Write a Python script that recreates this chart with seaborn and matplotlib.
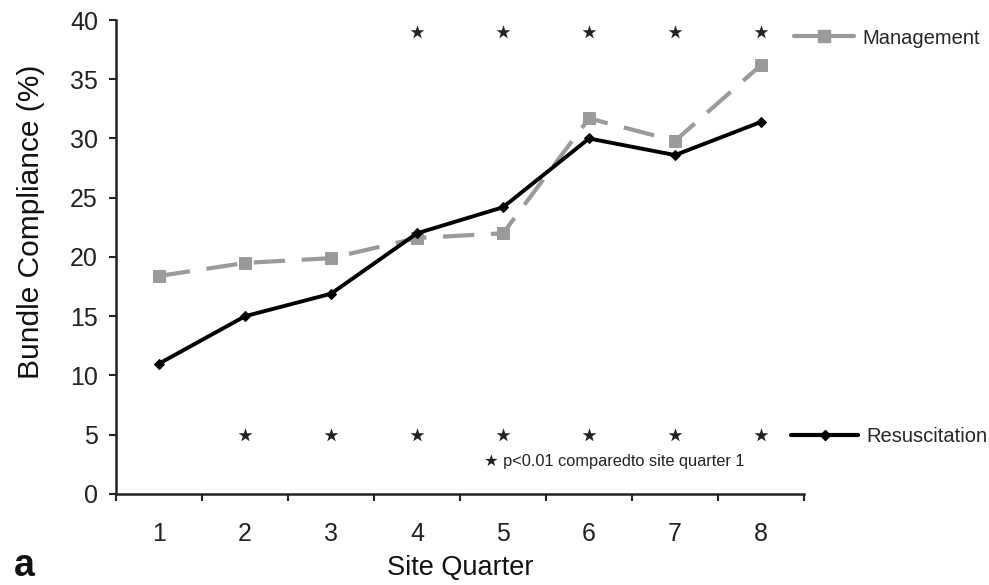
import matplotlib
matplotlib.use("Agg")
import matplotlib.pyplot as plt
from matplotlib.lines import Line2D
import seaborn as sns
import pandas as pd

# Bundle compliance per site quarter
quarters = [1, 2, 3, 4, 5, 6, 7, 8]
resuscitation = [11.0, 15.0, 16.9, 22.0, 24.2, 30.0, 28.6, 31.4]
management = [18.4, 19.5, 19.9, 21.6, 22.0, 31.7, 29.8, 36.2]

# quarters significantly different from quarter 1 (p < 0.01)
mgmt_sig = [4, 5, 6, 7, 8]
resus_sig = [2, 3, 4, 5, 6, 7, 8]
mgmt_star_y = 39
resus_star_y = 5

yticks = [0, 5, 10, 15, 20, 25, 30, 35, 40]

sns.set_theme(style="white")
plt.rcParams["font.family"] = ["Liberation Sans", "DejaVu Sans"]

df = pd.DataFrame({"quarter": quarters,
                   "Resuscitation": resuscitation,
                   "Management": management})

fig = plt.figure(figsize=(9.89, 5.85), dpi=100)
ax = fig.add_axes([0.1173, 0.1556, 0.813 - 0.1173, 0.9658 - 0.1556])

mgmt_color = "#9a9a9a"
sns.lineplot(data=df, x="quarter", y="Management", ax=ax, color=mgmt_color,
             linewidth=3, linestyle=(0, (7.5, 4)), marker="s", markersize=8,
             markeredgecolor=mgmt_color, markerfacecolor=mgmt_color)
sns.lineplot(data=df, x="quarter", y="Resuscitation", ax=ax, color="black",
             linewidth=2.8, marker="D", markersize=5.5,
             markeredgecolor="black", markerfacecolor="black")

# significance stars
ax.scatter(mgmt_sig, [mgmt_star_y] * len(mgmt_sig), marker="*", s=110,
           color="#222222", linewidths=0, clip_on=False, zorder=5)
ax.scatter(resus_sig, [resus_star_y] * len(resus_sig), marker="*", s=110,
           color="#222222", linewidths=0, clip_on=False, zorder=5)

ax.set_xlim(0.5, 8.5)
ax.set_ylim(0, 40)
ax.set_yticks(yticks)
ax.set_yticklabels([str(v) for v in yticks], fontsize=18, color="#222222")
ax.set_xticks(quarters)
ax.set_xticklabels([str(q) for q in quarters], fontsize=18, color="#222222")
ax.set_xticks([q + 0.5 for q in [0] + quarters], minor=True)
ax.tick_params(axis="x", which="major", length=0, pad=20)
ax.tick_params(axis="x", which="minor", length=5, width=1.5, color="#222222",
               direction="out", bottom=True)
ax.tick_params(axis="y", which="major", length=5, width=1.5, color="#222222",
               direction="out", left=True, pad=8)

for side in ["top", "right"]:
    ax.spines[side].set_visible(False)
for side in ["left", "bottom"]:
    ax.spines[side].set_color("#222222")
    ax.spines[side].set_linewidth(1.8)

ax.set_xlabel("Site Quarter", fontsize=19.5, color="#111111")
ax.xaxis.set_label_coords(0.5, -0.128)
ax.set_ylabel("Bundle Compliance (%)", fontsize=21.5, color="#111111")
ax.yaxis.set_label_coords(-0.103, 0.575)

# series keys beside the plot
mgmt_handle = Line2D([], [], color=mgmt_color, linewidth=3, marker="s",
                     markersize=8)
resus_handle = Line2D([], [], color="black", linewidth=3, marker="D",
                      markersize=5)
leg1 = ax.legend(handles=[mgmt_handle], labels=["Management"], frameon=False,
                 loc="center left", bbox_to_anchor=(0.973, 0.962),
                 handlelength=3.0, handletextpad=0.4, fontsize=14.5,
                 borderaxespad=0)
ax.add_artist(leg1)
ax.legend(handles=[resus_handle], labels=["Resuscitation"], frameon=False,
          loc="center left", bbox_to_anchor=(0.97, 0.122),
          handlelength=3.3, handletextpad=0.4, fontsize=14.5, borderaxespad=0)

ax.text(0.535, 0.069, "\u2605 p<0.01 comparedto site quarter 1",
        transform=ax.transAxes, fontsize=11.8, color="#222222",
        family=["Liberation Sans Narrow", "Liberation Sans", "DejaVu Sans"],
        va="center", ha="left")

fig.text(0.014, 0.015, "a", fontsize=27, fontweight="bold", color="#111111")

fig.savefig("out.png", dpi=100, facecolor="white")
